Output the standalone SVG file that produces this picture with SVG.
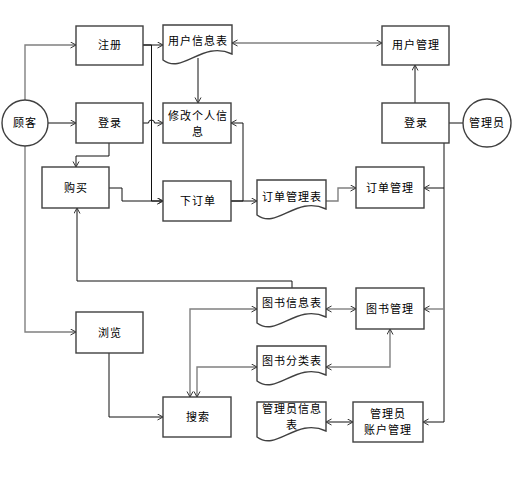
<svg xmlns="http://www.w3.org/2000/svg" width="514" height="492" viewBox="0 0 514 492">
<style>
.box{fill:#fff;stroke:#404040;stroke-width:1.4}
.t{font-family:"Noto Sans CJK SC","Noto Sans",sans-serif;font-size:11px;letter-spacing:1px;fill:#000;text-anchor:middle}
.k{fill:none;stroke:#111;stroke-width:1}
.g{fill:none;stroke:#808080;stroke-width:1.4}
</style>
<defs>
<marker id="a" markerUnits="userSpaceOnUse" markerWidth="8" markerHeight="8" refX="6" refY="3.5" orient="auto-start-reverse" viewBox="0 0 8 8">
<path d="M0.5,0.5 L6,3.5 L0.5,6.5" fill="none" stroke="#333" stroke-width="1"/>
</marker>
</defs>
<rect width="514" height="492" fill="#fff"/>
<g id="connectors">
<path class="g" d="M25,100 V45 H76" marker-end="url(#a)"/>
<path class="k" d="M48,123 H76" marker-end="url(#a)"/>
<path class="g" d="M25,146 V332 H76" marker-end="url(#a)"/>
<path class="k" d="M143,45 H163" marker-end="url(#a)"/>
<path class="k" d="M143,45 H151.5 V201 H163" marker-end="url(#a)"/>
<path class="k" d="M143,123 H148.5 A3,3 0 0 1 154.5,123 H163" marker-end="url(#a)"/>
<path class="k" d="M109,143 V156 H76 V167" marker-end="url(#a)"/>
<path class="k" d="M198,58 V103" marker-end="url(#a)"/>
<path class="g" d="M232,43 H382" marker-start="url(#a)" marker-end="url(#a)"/>
<path class="k" d="M109,188 H122 V201 H163" marker-end="url(#a)"/>
<path class="k" d="M231,201 H243 V123 H231" marker-end="url(#a)"/>
<path class="k" d="M231,201 H257" marker-end="url(#a)"/>
<path class="g" d="M326,201 H338 V188 H356" marker-end="url(#a)"/>
<path class="k" d="M415,103 V65" marker-end="url(#a)"/>
<path class="k" d="M449,123 H463"/>
<path class="k" d="M444,143 V422 H423" marker-end="url(#a)"/>
<path class="k" d="M444,188 H424" marker-end="url(#a)"/>
<path class="g" d="M444,309 H424" marker-end="url(#a)"/>
<path class="k" d="M292,288 V281 H77 V208" marker-end="url(#a)"/>
<path class="k" d="M109,353 V417 H163" marker-end="url(#a)"/>
<path class="g" d="M190,397 V309 H257" marker-start="url(#a)" marker-end="url(#a)"/>
<path class="g" d="M197,397 V367 H257" marker-start="url(#a)" marker-end="url(#a)"/>
<path class="g" d="M326,309 H356" marker-start="url(#a)" marker-end="url(#a)"/>
<path class="g" d="M390,329 V367 H326" marker-start="url(#a)" marker-end="url(#a)"/>
<path class="k" d="M326,422 H353" marker-start="url(#a)" marker-end="url(#a)"/>
</g>
<g id="guke"><circle class="box" cx="25" cy="123" r="23"/><text class="t" x="25" y="127">顾客</text></g>
<g id="zhuce"><rect class="box" x="76" y="26" width="67" height="39"/><text class="t" x="110" y="49">注册</text></g>
<g id="denglu"><rect class="box" x="76" y="103" width="67" height="40"/><text class="t" x="110" y="127">登录</text></g>
<g id="goumai"><rect class="box" x="42" y="167" width="67" height="41"/><text class="t" x="76" y="192">购买</text></g>
<g id="liulan"><rect class="box" x="76" y="312" width="67" height="41"/><text class="t" x="110" y="337">浏览</text></g>
<g id="yonghuxinxibiao"><path class="box" d="M163,25 H232 V54 C202,40 183,75 163,60 Z"/><text class="t" x="198" y="45">用户信息表</text></g>
<g id="xiugai"><rect class="box" x="163" y="103" width="68" height="40"/><text class="t" x="198" y="120">修改个人信</text><text class="t" x="198" y="136">息</text></g>
<g id="xiadingdan"><rect class="box" x="163" y="181" width="68" height="40"/><text class="t" x="198" y="205">下订单</text></g>
<g id="sousuo"><rect class="box" x="163" y="397" width="68" height="40"/><text class="t" x="198" y="421">搜索</text></g>
<g id="dingdanguanlibiao"><path class="box" d="M257,180 H326 V209 C296,195 277,230 257,215 Z"/><text class="t" x="292" y="201">订单管理表</text></g>
<g id="tushuxinxibiao"><path class="box" d="M257,288 H326 V317 C296,303 277,338 257,323 Z"/><text class="t" x="292" y="307">图书信息表</text></g>
<g id="tushufenleibiao"><path class="box" d="M257,346 H326 V375 C296,361 277,396 257,381 Z"/><text class="t" x="292" y="365">图书分类表</text></g>
<g id="guanliyuanxinxibiao"><path class="box" d="M257,402 H326 V431 C296,417 277,452 257,437 Z"/><text class="t" x="292" y="413">管理员信息</text><text class="t" x="292" y="429">表</text></g>
<g id="yonghuguanli"><rect class="box" x="382" y="26" width="67" height="39"/><text class="t" x="416" y="49">用户管理</text></g>
<g id="denglu2"><rect class="box" x="382" y="103" width="67" height="40"/><text class="t" x="416" y="127">登录</text></g>
<g id="guanliyuan"><circle class="box" cx="487" cy="123" r="24"/><text class="t" x="487" y="127">管理员</text></g>
<g id="dingdanguanli"><rect class="box" x="356" y="167" width="68" height="41"/><text class="t" x="390" y="192">订单管理</text></g>
<g id="tushuguanli"><rect class="box" x="356" y="288" width="68" height="41"/><text class="t" x="390" y="313">图书管理</text></g>
<g id="zhanghuguanli"><rect class="box" x="353" y="402" width="70" height="40"/><text class="t" x="388" y="418">管理员</text><text class="t" x="388" y="434">账户管理</text></g>
</svg>
